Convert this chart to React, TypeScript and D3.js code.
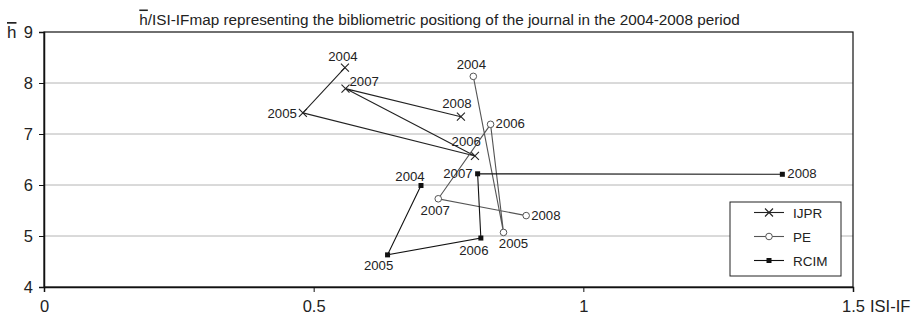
import { useEffect, useRef } from "react";
import * as d3 from "d3";

// years shared by all three journals
const years = ["2004", "2005", "2006", "2007", "2008"];

const ijprIF = [0.558, 0.48, 0.799, 0.559, 0.773];
const ijprH = [8.3, 7.415, 6.57, 7.89, 7.34];

const peIF = [0.796, 0.852, 0.828, 0.731, 0.894];
const peH = [8.13, 5.07, 7.19, 5.73, 5.4];

const rcimIF = [0.699, 0.637, 0.81, 0.804, 1.369];
const rcimH = [5.99, 4.63, 4.96, 6.22, 6.21];

const xTicks = [0, 0.5, 1, 1.5];
const yTicks = [4, 5, 6, 7, 8, 9];

// label offsets from each point: [dx, dy, anchor]
const ijprLabelOff: [number, number, string][] = [
  [-2, -7, "middle"],
  [-6, 5, "end"],
  [6, -10, "end"],
  [4, -3, "start"],
  [-4, -9, "middle"],
];
const peLabelOff: [number, number, string][] = [
  [-2, -7, "middle"],
  [10, 16, "middle"],
  [5, 4, "start"],
  [-3, 16, "middle"],
  [5, 4, "start"],
];
const rcimLabelOff: [number, number, string][] = [
  [-11, -5, "middle"],
  [-9, 15, "middle"],
  [-7, 17, "middle"],
  [-5, 4, "end"],
  [5, 4, "start"],
];

const FONT = "Liberation Sans, Arial, sans-serif";

function App() {
  const ref = useRef<SVGSVGElement>(null);

  useEffect(() => {
    const width = 919;
    const height = 316;
    const margin = { top: 32, right: 66, bottom: 29, left: 44 };

    const svg = d3.select(ref.current);
    svg.selectAll("*").remove();

    const x = d3.scaleLinear().domain([0, 1.5]).range([margin.left, width - margin.right]);
    const y = d3.scaleLinear().domain([4, 9]).range([height - margin.bottom, margin.top]);

    // gridlines
    svg
      .append("g")
      .selectAll("line")
      .data(yTicks.filter((t) => t > 4 && t < 9))
      .join("line")
      .attr("x1", x(0))
      .attr("x2", x(1.5))
      .attr("y1", (d) => y(d))
      .attr("y2", (d) => y(d))
      .attr("stroke", "#b4b4b4")
      .attr("stroke-width", 1);

    // plot box
    svg
      .append("rect")
      .attr("x", x(0))
      .attr("y", y(9))
      .attr("width", x(1.5) - x(0))
      .attr("height", y(4) - y(9))
      .attr("fill", "none")
      .attr("stroke", "#111")
      .attr("stroke-width", 1.2);

    // axes
    const yAxis = svg
      .append("g")
      .attr("transform", `translate(${x(0)},0)`)
      .call(d3.axisLeft(y).tickValues(yTicks).tickSize(5).tickPadding(6).tickFormat(d3.format("d")));
    const xAxis = svg
      .append("g")
      .attr("transform", `translate(0,${y(4)})`)
      .call(d3.axisBottom(x).tickValues(xTicks).tickSize(5).tickPadding(8.5).tickFormat((d) => String(d)));
    [yAxis, xAxis].forEach((a) => {
      a.select(".domain").attr("stroke", "#111").attr("stroke-width", 1.5);
      a.selectAll(".tick line").attr("stroke", "#111");
      a.selectAll("text").attr("font-family", FONT).attr("font-size", 16.5).attr("fill", "#222");
    });

    // axis titles
    svg
      .append("text")
      .attr("x", 7)
      .attr("y", 38)
      .attr("font-family", FONT)
      .attr("font-size", 17)
      .attr("fill", "#222")
      .attr("text-decoration", "overline")
      .text("h");
    svg
      .append("text")
      .attr("x", 870)
      .attr("y", 312)
      .attr("font-family", FONT)
      .attr("font-size", 16.5)
      .attr("fill", "#222")
      .text("ISI-IF");

    // title
    const title = svg
      .append("text")
      .attr("x", 439.5)
      .attr("y", 24.5)
      .attr("text-anchor", "middle")
      .attr("font-family", FONT)
      .attr("font-size", 15.3)
      .attr("fill", "#222");
    title.append("tspan").attr("text-decoration", "overline").text("h");
    title.append("tspan").text("/ISI-IFmap representing the bibliometric positiong of the journal in the 2004-2008 period");

    const series = [
      { name: "IJPR", xs: ijprIF, ys: ijprH, off: ijprLabelOff, marker: "cross", color: "#222" },
      { name: "PE", xs: peIF, ys: peH, off: peLabelOff, marker: "circle", color: "#555" },
      { name: "RCIM", xs: rcimIF, ys: rcimH, off: rcimLabelOff, marker: "square", color: "#111" },
    ];

    const drawMarker = (g: any, type: string, cx: number, cy: number, color: string) => {
      if (type === "cross") {
        g.append("path")
          .attr("d", `M${cx - 4},${cy - 4}L${cx + 4},${cy + 4}M${cx - 4},${cy + 4}L${cx + 4},${cy - 4}`)
          .attr("stroke", color)
          .attr("stroke-width", 1.1);
      } else if (type === "circle") {
        g.append("circle")
          .attr("cx", cx)
          .attr("cy", cy)
          .attr("r", 3.3)
          .attr("fill", "#fff")
          .attr("stroke", color)
          .attr("stroke-width", 1);
      } else {
        g.append("rect")
          .attr("x", cx - 2.5)
          .attr("y", cy - 2.5)
          .attr("width", 5)
          .attr("height", 5)
          .attr("fill", color);
      }
    };

    series.forEach((s) => {
      const pts = years.map((_, i) => [x(s.xs[i]), y(s.ys[i])] as [number, number]);
      svg
        .append("path")
        .datum(pts)
        .attr("fill", "none")
        .attr("stroke", s.color)
        .attr("stroke-width", 1.1)
        .attr("d", d3.line());
      const g = svg.append("g");
      pts.forEach(([px, py], i) => {
        drawMarker(g, s.marker, px, py, s.color);
        const [dx, dy, anchor] = s.off[i];
        g.append("text")
          .attr("x", px + dx)
          .attr("y", py + dy)
          .attr("text-anchor", anchor)
          .attr("font-family", FONT)
          .attr("font-size", 13.2)
          .attr("fill", "#222")
          .text(years[i]);
      });
    });

    // legend
    const lg = svg.append("g");
    lg.append("rect")
      .attr("x", 730)
      .attr("y", 202)
      .attr("width", 111)
      .attr("height", 74)
      .attr("fill", "#fff")
      .attr("stroke", "#222")
      .attr("stroke-width", 1);
    series.forEach((s, i) => {
      const ly = 212.5 + i * 24;
      lg.append("line")
        .attr("x1", 754)
        .attr("x2", 784)
        .attr("y1", ly)
        .attr("y2", ly)
        .attr("stroke", s.color)
        .attr("stroke-width", 1.1);
      drawMarker(lg, s.marker, 769, ly, s.color);
      lg.append("text")
        .attr("x", 793)
        .attr("y", ly + 5)
        .attr("font-family", FONT)
        .attr("font-size", 13.5)
        .attr("fill", "#222")
        .text(s.name);
    });
  }, []);

  return <svg ref={ref} width={919} height={316} style={{ display: "block", position: "absolute", left: 0, top: 0 }} />;
}

export default App;
